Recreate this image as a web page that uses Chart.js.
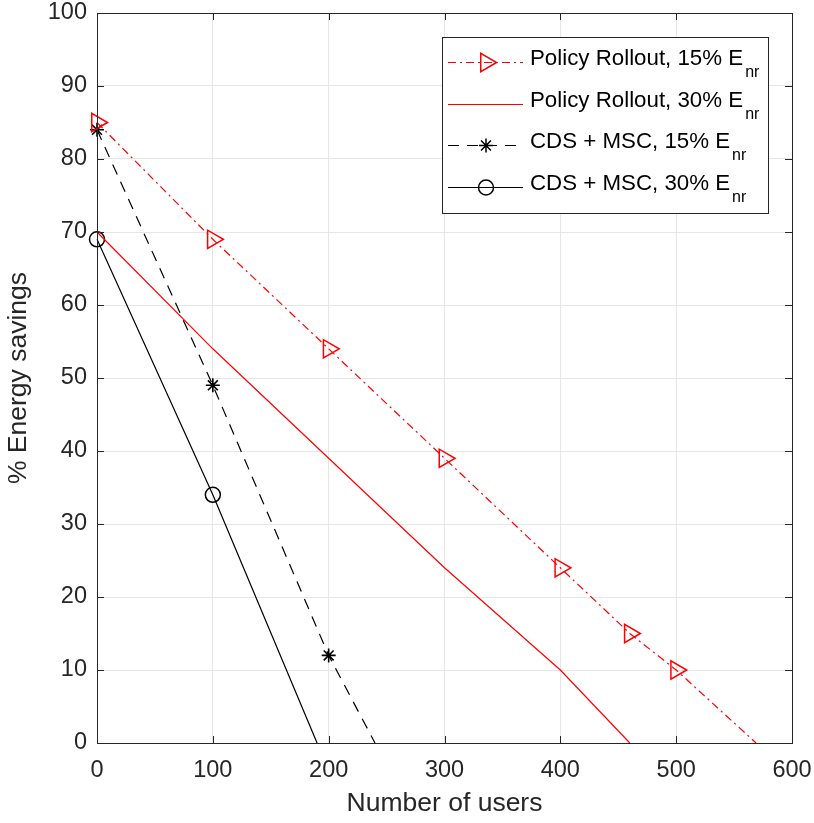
<!DOCTYPE html>
<html>
<head>
<meta charset="utf-8">
<script src="https://cdn.jsdelivr.net/npm/chart.js@4"></script>
<style>
  html, body { margin: 0; padding: 0; background: #fff; }
  #wrap { width: 814px; height: 823px; }
</style>
</head>
<body>
<div id="wrap"><canvas id="myChart" width="814" height="823"></canvas></div>
<script>
// valeurs
const seriesNames = [
  'Policy Rollout, 15% E',
  'Policy Rollout, 30% E',
  'CDS + MSC, 15% E',
  'CDS + MSC, 30% E'
];
const rollout15X = [0, 100, 200, 300, 400, 460, 500, 569];
const rollout15Y = [85, 69, 54, 39, 24, 15, 10, 0];
const rollout15Marks = [1, 1, 1, 1, 1, 1, 1, 0];

const rollout30X = [0, 100, 200, 300, 400, 460];
const rollout30Y = [70, 54, 39, 24, 10, 0];

const cds15X = [0, 100, 200, 240];
const cds15Y = [84, 49, 12, 0];
const cds15Marks = [1, 1, 1, 0];

const cds30X = [0, 100, 190];
const cds30Y = [69, 34, 0];
const cds30Marks = [1, 1, 0];

const xTicks = [0, 100, 200, 300, 400, 500, 600];
const yTicks = [0, 10, 20, 30, 40, 50, 60, 70, 80, 90, 100];

const FONT = 'Liberation Sans, Arial, Helvetica, sans-serif';

function pts(xs, ys) {
    return xs.map((x, i) => ({ x: x, y: ys[i] }));
}

// boite, graduations internes et legende facon matlab
const matlabBox = {
    id: 'matlabBox',
    afterDraw(chart) {
        const c = chart.ctx;
        const a = chart.chartArea;
        const xs = chart.scales.x, ys = chart.scales.y;
        c.save();
        c.strokeStyle = '#262626';
        c.lineWidth = 1;
        c.strokeRect(a.left + 0.5, a.top + 0.5, a.right - a.left, a.bottom - a.top);
        const t = 7;
        c.beginPath();
        xTicks.forEach(v => {
            const px = Math.round(xs.getPixelForValue(v)) + 0.5;
            c.moveTo(px, a.bottom); c.lineTo(px, a.bottom - t);
            c.moveTo(px, a.top); c.lineTo(px, a.top + t);
        });
        yTicks.forEach(v => {
            const py = Math.round(ys.getPixelForValue(v)) + 0.5;
            c.moveTo(a.left, py); c.lineTo(a.left + t, py);
            c.moveTo(a.right, py); c.lineTo(a.right - t, py);
        });
        c.stroke();

        // legende
        const lx = 442, ly = 37, lw = 326, lh = 176;
        c.fillStyle = '#fff';
        c.fillRect(lx, ly, lw, lh);
        c.strokeStyle = '#262626';
        c.strokeRect(lx + 0.5, ly + 0.5, lw, lh);
        const rows = [62, 104, 145, 187];
        chart.data.datasets.forEach((ds, i) => {
            const y = rows[i];
            c.strokeStyle = ds.borderColor;
            c.lineWidth = ds.borderWidth;
            c.setLineDash(ds.borderDash || []);
            c.beginPath();
            c.moveTo(448, y + 0.5); c.lineTo(523, y + 0.5);
            c.stroke();
            c.setLineDash([]);
            if (ds.legendMark) {
                c.fillStyle = 'rgba(0,0,0,0)';
                c.lineWidth = 1.5;
                Chart.helpers.drawPoint(c, {
                    pointStyle: ds.pointStyle,
                    radius: ds.legendRadius,
                    rotation: ds.rotation || 0,
                    borderWidth: 1.5
                }, 486, y + 0.5);
            }
            c.fillStyle = '#000';
            c.font = '22.3px ' + FONT;
            c.textBaseline = 'middle';
            c.textAlign = 'left';
            const txt = seriesNames[i];
            c.fillText(txt, 530, y - 3);
            const w = c.measureText(txt).width;
            c.font = '16px ' + FONT;
            c.fillText('nr', 532 + w, y + 11);
        });
        c.restore();
    }
};

const ctx = document.getElementById('myChart').getContext('2d');
const myChart = new Chart(ctx, {
    type: 'line',
    data: {
        datasets: [{
            label: seriesNames[0],
            data: pts(rollout15X, rollout15Y),
            borderColor: '#ff0000',
            borderWidth: 1.2,
            borderDash: [8, 4, 2, 4],
            pointStyle: 'triangle',
            rotation: 90,
            pointRadius: rollout15Marks.map(m => m ? 10.5 : 0),
            pointBorderWidth: 1.5,
            pointBorderColor: '#ff0000',
            pointBackgroundColor: 'rgba(0,0,0,0)',
            legendMark: true,
            legendRadius: 10.5
        }, {
            label: seriesNames[1],
            data: pts(rollout30X, rollout30Y),
            borderColor: '#ff0000',
            borderWidth: 1.2,
            pointRadius: 0,
            legendMark: false
        }, {
            label: seriesNames[2],
            data: pts(cds15X, cds15Y),
            borderColor: '#000000',
            borderWidth: 1.2,
            borderDash: [11, 8],
            pointStyle: 'star',
            pointRadius: cds15Marks.map(m => m ? 7 : 0),
            pointBorderWidth: 1.6,
            pointBorderColor: '#000',
            pointBackgroundColor: 'rgba(0,0,0,0)',
            legendMark: true,
            legendRadius: 7
        }, {
            label: seriesNames[3],
            data: pts(cds30X, cds30Y),
            borderColor: '#000000',
            borderWidth: 1.2,
            pointStyle: 'circle',
            pointRadius: cds30Marks.map(m => m ? 7.5 : 0),
            pointBorderWidth: 1.5,
            pointBorderColor: '#000',
            pointBackgroundColor: 'rgba(0,0,0,0)',
            legendMark: true,
            legendRadius: 7.5
        }]
    },
    options: {
        responsive: false,
        animation: false,
        clip: false,
        layout: { padding: { top: 13, right: 22, left: 0, bottom: 0 } },
        plugins: {
            legend: { display: false },
            tooltip: { enabled: false }
        },
        scales: {
            x: {
                type: 'linear',
                min: 0, max: 600,
                afterFit: s => { s.height = 80; s.paddingLeft = 0; s.paddingRight = 0; },
                afterBuildTicks: s => { s.ticks = xTicks.map(v => ({ value: v })); },
                border: { display: false },
                grid: { color: '#e6e6e6', drawTicks: false },
                ticks: { color: '#262626', font: { family: FONT, size: 23.5 }, padding: 13, maxRotation: 0 },
                title: { display: true, text: 'Number of users', color: '#262626',
                         font: { family: FONT, size: 26.5 }, padding: 3 }
            },
            y: {
                type: 'linear',
                min: 0, max: 100,
                afterFit: s => { s.width = 97; s.paddingTop = 0; s.paddingBottom = 0; },
                afterBuildTicks: s => { s.ticks = yTicks.map(v => ({ value: v })); },
                border: { display: false },
                grid: { color: '#e6e6e6', drawTicks: false },
                ticks: { color: '#262626', font: { family: FONT, size: 23.5 }, padding: 10 },
                title: { display: true, text: '% Energy savings', color: '#262626',
                         font: { family: FONT, size: 26.5 }, padding: 3 }
            }
        }
    },
    plugins: [matlabBox]
});
</script>
</body>
</html>
